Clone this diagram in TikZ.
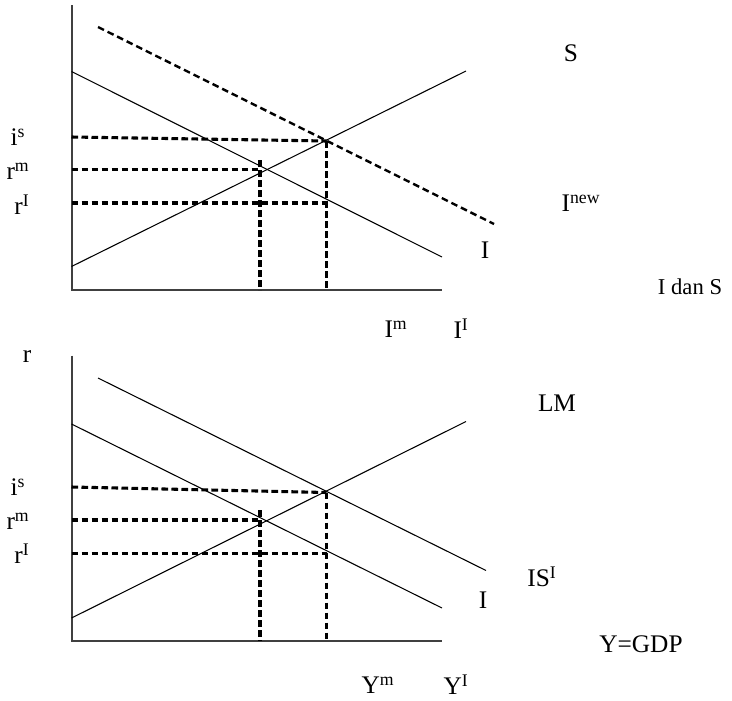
\documentclass[tikz,border=0pt]{standalone}
\usepackage{fontspec}
\setmainfont{Liberation Serif}
\begin{document}
\begin{tikzpicture}[x=0.75pt,y=-0.75pt,
  axis/.style={line width=1.5pt,draw=black!75},
  curve/.style={line width=0.8pt},
  guide/.style={line width=2.3pt,dash pattern=on 5pt off 2.5pt},
  newcurve/.style={line width=1.8pt,dash pattern=on 5pt off 3pt},
  lbl/.style={inner sep=0pt,font=\fontsize{19}{21}\selectfont},
  small/.style={inner sep=0pt,font=\fontsize{17}{19}\selectfont}]
\useasboundingbox (0,0) rectangle (732,700);

% ---------- top panel ----------
\coordinate (tO) at (71.5,290);
\coordinate (tYtop) at (71.5,5);
\coordinate (tXend) at (442,290);
\draw[axis] (tYtop) -- (tO) -- (tXend);

\coordinate (tIa) at (71.5,71.5);  \coordinate (tIb) at (442,257);
\coordinate (tSa) at (71.5,266.5); \coordinate (tSb) at (466,71);
\coordinate (tNa) at (98,27);      \coordinate (tNb) at (494,224);
\draw[curve] (tIa) -- (tIb);
\draw[curve] (tSa) -- (tSb);
\draw[newcurve] (tNa) -- (tNb);

\coordinate (tis0) at (71.5,137); \coordinate (tis1) at (326.5,141);
\coordinate (trm0) at (71.5,169.5); \coordinate (trm1) at (260,169.5);
\coordinate (trI0) at (71.5,203); \coordinate (trI1) at (326.5,203);
\coordinate (tv1a) at (260,160); \coordinate (tv1b) at (260,290);
\coordinate (tv2a) at (326.5,141); \coordinate (tv2b) at (326.5,290);
\draw[guide] (tis0) -- (tis1);
\draw[guide] (trm0) -- (trm1);
\draw[guide] (trI0) -- (trI1);
\draw[guide] (tv1a) -- (tv1b);
\draw[guide] (tv2a) -- (tv2b);

\node[lbl] (tS) at (571,53) {S};
\node[lbl] (tInew) at (581,203) {I\textsuperscript{new}};
\node[lbl] (tI) at (485,250) {I};
\node[small] (tIdanS) at (690,287) {I dan S};
\node[lbl] (tIm) at (396,329) {I\textsuperscript{m}};
\node[lbl] (tII) at (461,329) {I\textsuperscript{I}};
\node[lbl] (tlis) at (18,137) {i\textsuperscript{s}};
\node[lbl] (tlrm) at (18,171) {r\textsuperscript{m}};
\node[lbl] (tlrI) at (22,205) {r\textsuperscript{I}};

% ---------- bottom panel ----------
\coordinate (bO) at (71.5,641);
\coordinate (bYtop) at (71.5,355.5);
\coordinate (bXend) at (442,641);
\draw[axis] (bYtop) -- (bO) -- (bXend);

\coordinate (bISa) at (98,378); \coordinate (bISb) at (486,570.5);
\coordinate (bIa) at (71.5,424);  \coordinate (bIb) at (442,608);
\coordinate (bLa) at (71.5,618);  \coordinate (bLb) at (466,421.5);
\draw[curve] (bISa) -- (bISb);
\draw[curve] (bIa) -- (bIb);
\draw[curve] (bLa) -- (bLb);

\coordinate (bis0) at (71.5,487); \coordinate (bis1) at (326.5,492.5);
\coordinate (brm0) at (71.5,520); \coordinate (brm1) at (260,520);
\coordinate (brI0) at (71.5,553.5); \coordinate (brI1) at (326.5,553.5);
\coordinate (bv1a) at (260,510); \coordinate (bv1b) at (260,641);
\coordinate (bv2a) at (326.5,492.5); \coordinate (bv2b) at (326.5,641);
\draw[guide] (bis0) -- (bis1);
\draw[guide] (brm0) -- (brm1);
\draw[guide] (brI0) -- (brI1);
\draw[guide] (bv1a) -- (bv1b);
\draw[guide] (bv2a) -- (bv2b);

\node[lbl] (br) at (27,357) {r};
\node[lbl] (bLM) at (557,403) {LM};
\node[lbl] (bISI) at (542,577) {IS\textsuperscript{I}};
\node[lbl] (bI) at (483,600) {I};
\node[lbl] (bGDP) at (641,644) {Y=GDP};
\node[lbl] (bYm) at (378,685) {Y\textsuperscript{m}};
\node[lbl] (bYI) at (456,685) {Y\textsuperscript{I}};
\node[lbl] (blis) at (18,487) {i\textsuperscript{s}};
\node[lbl] (blrm) at (18,521) {r\textsuperscript{m}};
\node[lbl] (blrI) at (22,554) {r\textsuperscript{I}};
\end{tikzpicture}
\end{document}
